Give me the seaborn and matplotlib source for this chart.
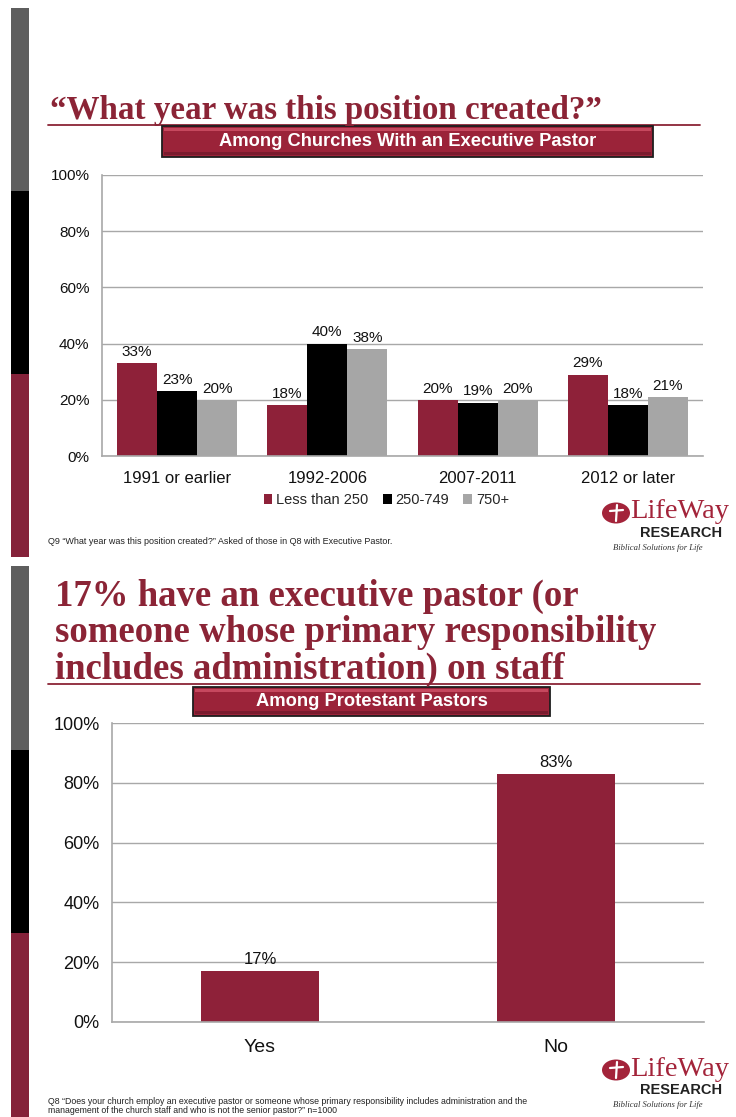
import matplotlib
matplotlib.use("Agg")
import matplotlib.pyplot as plt
from matplotlib.patches import Rectangle, Ellipse
from matplotlib.lines import Line2D
import seaborn as sns
import pandas as pd

# ---- data -------------------------------------------------------------
year_categories = ["1991 or earlier", "1992-2006", "2007-2011", "2012 or later"]
size_groups = ["Less than 250", "250-749", "750+"]
less_than_250 = [33, 18, 20, 29]
from_250_to_749 = [23, 40, 19, 18]
over_750 = [20, 38, 20, 21]

staff_categories = ["Yes", "No"]
staff_values = [17, 83]

y_ticks = [0, 20, 40, 60, 80, 100]
y_tick_labels = ["0%", "20%", "40%", "60%", "80%", "100%"]

title_1 = "\u201cWhat year was this position created?\u201d"
subtitle_1 = "Among Churches With an Executive Pastor"
note_1 = ("Q9 \u201cWhat year was this position created?\u201d Asked of those in Q8 "
          "with Executive Pastor.")
title_2 = ("17% have an executive pastor (or\nsomeone whose primary responsibility\n"
           "includes administration) on staff")
subtitle_2 = "Among Protestant Pastors"
note_2 = ("Q8 \u201cDoes your church employ an executive pastor or someone whose primary "
          "responsibility includes administration and the\nmanagement of the church staff "
          "and who is not the senior pastor?\u201d n=1000")

# ---- style ------------------------------------------------------------
MAROON = "#8E2139"
TITLE_RED = "#8B2436"
GRID = "#A8A8A8"
palette = [MAROON, "#000000", "#A6A6A6"]

sns.set_style("white")
plt.rcParams["font.family"] = ["Liberation Sans", "DejaVu Sans"]

W, H = 736, 1117
fig = plt.figure(figsize=(W / 100, H / 100), dpi=100)
fig.patch.set_facecolor("white")


def fx(x):
    return x / W


def fy(y):
    return 1 - y / H


def frect(x0, y0, x1, y1, **kw):
    fig.patches.append(Rectangle((fx(x0), fy(y1)), fx(x1) - fx(x0), fy(y0) - fy(y1),
                                 transform=fig.transFigure, **kw))


def sidebar(y_top, y_bottom):
    third = (y_bottom - y_top) / 3
    frect(11, y_top, 29, y_top + third, facecolor="#5E5E5E", lw=0)
    frect(11, y_top + third, 29, y_top + 2 * third, facecolor="#000000", lw=0)
    frect(11, y_top + 2 * third, 29, y_bottom, facecolor="#85223A", lw=0)


def banner(x0, y0, x1, y1, text):
    frect(x0, y0, x1, y1, facecolor="#9B2339", edgecolor="#1E1E1E", lw=1.3, zorder=3)
    frect(x0 + 2, y0 + 2, x1 - 2, y0 + 5, facecolor="#C6485E", lw=0, zorder=4)
    frect(x0 + 2, y1 - 5, x1 - 2, y1 - 2, facecolor="#7A1B2E", lw=0, zorder=4)
    fig.text(fx((x0 + x1) / 2), fy((y0 + y1) / 2), text, color="white",
             fontsize=13.2, fontweight="bold", ha="center", va="center", zorder=5)


def title_rule(y):
    fig.lines.append(Line2D([fx(48), fx(700)], [fy(y), fy(y)], color=TITLE_RED,
                            lw=1.3, transform=fig.transFigure))


def logo(y):
    fig.patches.append(Ellipse((fx(616), fy(y)), fx(28), 21 / H, facecolor="#A3243A",
                               lw=0, transform=fig.transFigure))
    fig.lines.append(Line2D([fx(610), fx(623)], [fy(y - 2), fy(y - 3)], color="white",
                            lw=1.6, transform=fig.transFigure))
    fig.lines.append(Line2D([fx(617), fx(616)], [fy(y - 8), fy(y + 8)], color="white",
                            lw=1.6, transform=fig.transFigure))
    fig.text(fx(630), fy(y - 1), "LifeWay", family="Liberation Serif", fontsize=20.5,
             color="#A3243A", ha="left", va="center")
    fig.text(fx(640), fy(y + 20), "RESEARCH", fontsize=10.5, fontweight="bold",
             color="#222222", ha="left", va="center")
    fig.text(fx(613), fy(y + 35), "Biblical Solutions for Life", family="Liberation Serif",
             style="italic", fontsize=6.2, color="#333333", ha="left", va="center")


def style_axes(ax, tick_size, tick_len, tick_pad):
    ax.set_ylim(0, 100)
    ax.set_yticks(y_ticks)
    ax.set_yticklabels(y_tick_labels)
    ax.yaxis.grid(True, color=GRID, lw=1)
    ax.xaxis.grid(False)
    ax.set_axisbelow(True)
    for side in ("top", "right"):
        ax.spines[side].set_visible(False)
    for side in ("left", "bottom"):
        ax.spines[side].set_color(GRID)
        ax.spines[side].set_linewidth(1.2)
    ax.tick_params(axis="y", labelsize=tick_size, length=tick_len, color=GRID,
                   pad=tick_pad, colors="#111111")
    ax.tick_params(axis="x", labelsize=tick_size + 1, length=0, pad=tick_pad + 2,
                   colors="#111111")
    ax.set_xlabel("")
    ax.set_ylabel("")


# ---- slide 1: year the position was created ----------------------------
sidebar(8, 557)
fig.text(fx(50), fy(110), title_1, family="Liberation Serif", fontweight="bold",
         fontsize=23.8, color=TITLE_RED, ha="left", va="center")
title_rule(125)
banner(162, 126, 653, 157, subtitle_1)

df_years = pd.DataFrame({
    "period": year_categories * 3,
    "size": [g for g in size_groups for _ in year_categories],
    "share": less_than_250 + from_250_to_749 + over_750,
})

ax1 = fig.add_axes([fx(102), fy(456), fx(703) - fx(102), fy(175) - fy(456)])
sns.barplot(data=df_years, x="period", y="share", hue="size", order=year_categories,
            hue_order=size_groups, palette=palette, width=0.8, saturation=1,
            linewidth=0, ax=ax1)
style_axes(ax1, 11, 0, 9)
for cont in ax1.containers:
    ax1.bar_label(cont, labels=[f"{int(round(b.get_height()))}%" for b in cont],
                  padding=3, fontsize=11, color="#111111")
sns.move_legend(ax1, "center", bbox_to_anchor=(0.473, -0.157), ncol=3, frameon=False,
                title=None, fontsize=10.5, handlelength=0.6, handleheight=0.6,
                handletextpad=0.25, columnspacing=1.0)

fig.text(fx(48), fy(541), note_1, fontsize=6.5, color="#222222", ha="left", va="center")
logo(513)

# ---- slide 2: has an executive pastor ----------------------------------
sidebar(566, 1117)
fig.text(fx(55), fy(633), title_2, family="Liberation Serif", fontweight="bold",
         fontsize=26.5, color=TITLE_RED, ha="left", va="center", linespacing=1.05)
title_rule(684)
banner(193, 687, 550, 716, subtitle_2)

df_staff = pd.DataFrame({"answer": staff_categories, "share": staff_values})
ax2 = fig.add_axes([fx(112), fy(1022), fx(704) - fx(112), fy(723) - fy(1022)])
sns.barplot(data=df_staff, x="answer", y="share", order=staff_categories, color=MAROON,
            width=0.4, saturation=1, linewidth=0, ax=ax2)
style_axes(ax2, 13, 4, 5)
ax2.tick_params(axis="x", pad=12)
for cont in ax2.containers:
    ax2.bar_label(cont, labels=[f"{int(round(b.get_height()))}%" for b in cont],
                  padding=3, fontsize=12, color="#111111")

fig.text(fx(48), fy(1106), note_2, fontsize=6.3, color="#222222", ha="left",
         va="center", linespacing=1.1)
logo(1070)

fig.savefig("out.png", dpi=100, facecolor="white")
